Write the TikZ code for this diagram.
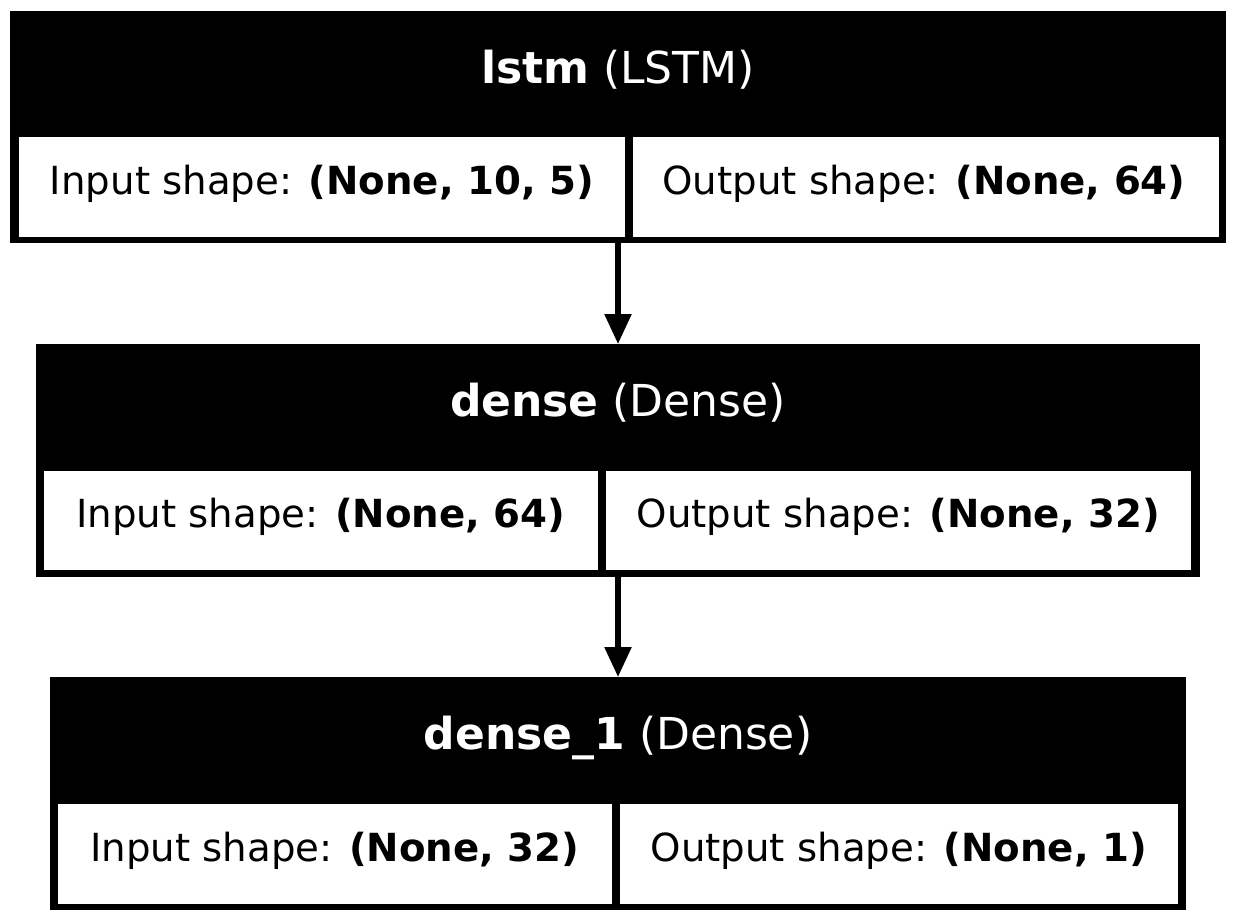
\documentclass[tikz,border=0pt]{standalone}
\usepackage{fontspec}
\setmainfont{DejaVu Sans}
\usetikzlibrary{arrows.meta}
\begin{document}
\begin{tikzpicture}[x=1pt,y=-1pt,
  outerbox/.style={fill=black, draw=none, inner sep=0pt, outer sep=0pt},
  cellbox/.style={fill=white, draw=none, inner sep=0pt, outer sep=0pt},
  titletext/.style={text=white, inner sep=0pt, anchor=base, font=\fontsize{44}{52}\selectfont},
  celltext/.style={text=black, inner sep=0pt, anchor=base, font=\fontsize{38.7}{46}\selectfont},
  conn/.style={draw=black, line width=5.5pt, -{Triangle[width=26pt,length=30pt]}}
]
\useasboundingbox[fill=white] (0,0) rectangle (1236,922);

% box 1
\node[outerbox, minimum width=1216pt, minimum height=232pt] (lstm) at (618,127) {};
\node[cellbox, minimum width=606pt, minimum height=100pt] (lstmin) at (322,187) {};
\node[cellbox, minimum width=586pt, minimum height=100pt] (lstmout) at (926,187) {};
\node[titletext] (lstmtitle) at (618,83) {\textbf{lstm} (LSTM)};
\node[celltext] (lstmintxt) at (322,194) {Input shape: \textbf{(None, 10, 5)}};
\node[celltext] (lstmouttxt) at (924,194) {Output shape: \textbf{(None, 64)}};

% box 2
\node[outerbox, minimum width=1164pt, minimum height=233pt] (dense) at (618,460.5) {};
\node[cellbox, minimum width=553.5pt, minimum height=99pt] (densein) at (320.75,520.5) {};
\node[cellbox, minimum width=585.5pt, minimum height=99pt] (denseout) at (898.25,520.5) {};
\node[titletext] (densetitle) at (618,416) {\textbf{dense} (Dense)};
\node[celltext] (denseintxt) at (320.75,527) {Input shape: \textbf{(None, 64)}};
\node[celltext] (denseouttxt) at (898.25,527) {Output shape: \textbf{(None, 32)}};

% box 3
\node[outerbox, minimum width=1136pt, minimum height=233pt] (denseone) at (618,793.5) {};
\node[cellbox, minimum width=553.5pt, minimum height=100pt] (denseonein) at (334.75,854) {};
\node[cellbox, minimum width=558.5pt, minimum height=100pt] (denseoneout) at (898.75,854) {};
\node[titletext] (denseonetitle) at (618,749) {\textbf{dense\_1} (Dense)};
\node[celltext] (denseoneintxt) at (334.75,861) {Input shape: \textbf{(None, 32)}};
\node[celltext] (denseoneouttxt) at (898.75,861) {Output shape: \textbf{(None, 1)}};

% connectors
\draw[conn] (lstm.south) -- (dense.north);
\draw[conn] (dense.south) -- (denseone.north);
\end{tikzpicture}
\end{document}
